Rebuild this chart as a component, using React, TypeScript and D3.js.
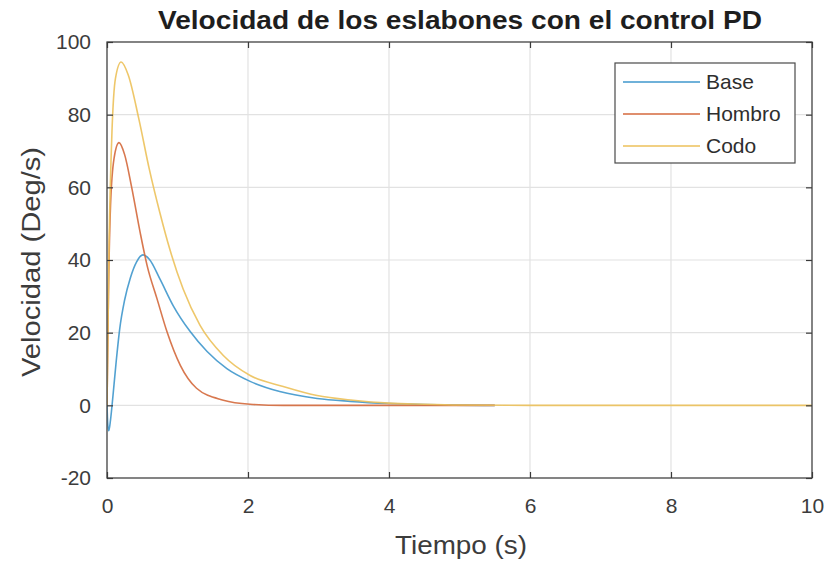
import { useEffect, useRef } from 'react'
import * as d3 from 'd3'

const W = 832
const H = 564
const MARGIN = { top: 42, right: 20, bottom: 86, left: 107 }

const xTicks = [0, 2, 4, 6, 8, 10]
const yTicks = [-20, 0, 20, 40, 60, 80, 100]

// Base
const baseT = [0, 0.01, 0.025, 0.05, 0.085, 0.13, 0.18, 0.25, 0.33, 0.42, 0.51, 0.6, 0.75, 0.94, 1.18, 1.42, 1.7, 2.03, 2.45, 2.98, 3.45, 4, 4.5, 5.5]
const baseV = [0, -5, -7, -4, 2.7, 12, 21, 29, 35, 39.5, 41.4, 40.2, 34.8, 27.4, 20.3, 14.8, 10.1, 6.6, 3.8, 1.9, 1.1, 0.5, 0.2, 0]

// Hombro
const hombroT = [0, 0.02, 0.05, 0.1, 0.17, 0.25, 0.35, 0.47, 0.57, 0.71, 0.85, 1.04, 1.27, 1.65, 2.03, 2.5, 3, 4, 5.5]
const hombroV = [0, 30, 55, 68, 72.3, 69, 60, 47.6, 38.4, 29.3, 20.3, 11, 4.7, 1.4, 0.3, 0, 0, 0, 0]

// Codo
const codoT = [0, 0.03, 0.07, 0.12, 0.2, 0.3, 0.45, 0.6, 0.75, 0.89, 1.08, 1.32, 1.65, 2.03, 2.5, 2.98, 3.49, 4, 4.5, 5, 6, 8, 10]
const codoV = [0, 45, 75, 90, 94.5, 91, 79, 65, 53, 43, 32, 22, 13.7, 8.2, 5.2, 2.7, 1.4, 0.6, 0.3, 0.1, 0, 0, 0]

const series = [
  { name: 'Base', t: baseT, v: baseV, color: '#3f97cc' },
  { name: 'Hombro', t: hombroT, v: hombroV, color: '#d4693c' },
  { name: 'Codo', t: codoT, v: codoV, color: '#ecc15a' },
]

const FONT = 'Liberation Sans, Arial, sans-serif'

export default function App() {
  const svgRef = useRef<SVGSVGElement>(null)

  useEffect(() => {
    const el = svgRef.current
    if (!el) return
    d3.select(el).selectAll('*').remove()

    const iW = W - MARGIN.left - MARGIN.right
    const iH = H - MARGIN.top - MARGIN.bottom

    const svg = d3.select(el)
    svg.append('rect').attr('width', W).attr('height', H).attr('fill', '#fff')

    const root = svg.append('g').attr('transform', `translate(${MARGIN.left},${MARGIN.top})`)

    const x = d3.scaleLinear().domain([0, 10]).range([0, iW])
    const y = d3.scaleLinear().domain([-20, 100]).range([iH, 0])

    // Grid
    root.append('g')
      .selectAll('line')
      .data(xTicks)
      .join('line')
      .attr('x1', (d) => x(d)).attr('x2', (d) => x(d))
      .attr('y1', 0).attr('y2', iH)
      .attr('stroke', '#e2e2e2').attr('stroke-width', 1.2)

    root.append('g')
      .selectAll('line')
      .data(yTicks)
      .join('line')
      .attr('x1', 0).attr('x2', iW)
      .attr('y1', (d) => y(d)).attr('y2', (d) => y(d))
      .attr('stroke', '#e2e2e2').attr('stroke-width', 1.2)

    // Lines
    const clip = root.append('clipPath').attr('id', 'plot-clip')
    clip.append('rect').attr('width', iW).attr('height', iH)

    const lines = root.append('g').attr('clip-path', 'url(#plot-clip)')
    series.forEach((s) => {
      const pts = s.t.map((t, i) => [t, s.v[i]] as [number, number])
      const line = d3.line<[number, number]>()
        .x((d) => x(d[0]))
        .y((d) => y(d[1]))
        .curve(d3.curveMonotoneX)
      lines.append('path')
        .attr('d', line(pts))
        .attr('fill', 'none')
        .attr('stroke', s.color)
        .attr('stroke-width', 1.6)
        .attr('opacity', 0.9)
    })

    // Axes box
    root.append('rect')
      .attr('width', iW).attr('height', iH)
      .attr('fill', 'none').attr('stroke', '#4a4a4a').attr('stroke-width', 1.3)

    const axisColor = '#3a3a3a'
    const fmt = (d: d3.NumberValue) => String(d)
    const xBottom = root.append('g')
      .attr('transform', `translate(0,${iH})`)
      .call(d3.axisBottom(x).tickValues(xTicks).tickSize(-6).tickPadding(20).tickFormat(fmt))
    const xTop = root.append('g')
      .call(d3.axisTop(x).tickValues(xTicks).tickSize(-6).tickFormat(() => ''))
    const yLeft = root.append('g')
      .call(d3.axisLeft(y).tickValues(yTicks).tickSize(-6).tickPadding(16).tickFormat(fmt))
    const yRight = root.append('g')
      .attr('transform', `translate(${iW},0)`)
      .call(d3.axisRight(y).tickValues(yTicks).tickSize(-6).tickFormat(() => ''))

    ;[xBottom, xTop, yLeft, yRight].forEach((g) => {
      g.select('.domain').remove()
      g.selectAll('.tick line').attr('stroke', axisColor).attr('stroke-width', 1.2)
      g.selectAll('text')
        .attr('font-family', FONT)
        .attr('font-size', 21)
        .attr('fill', '#3c3c3c')
    })

    // Title
    svg.append('text')
      .attr('x', 460).attr('y', 29)
      .attr('text-anchor', 'middle')
      .attr('font-family', FONT)
      .attr('font-weight', 'bold')
      .attr('font-size', 25)
      .attr('textLength', 604)
      .attr('lengthAdjust', 'spacingAndGlyphs')
      .attr('fill', '#1e1e1e')
      .text('Velocidad de los eslabones con el control PD')

    // Axis labels
    svg.append('text')
      .attr('x', 461).attr('y', 554)
      .attr('text-anchor', 'middle')
      .attr('font-family', FONT)
      .attr('font-size', 25)
      .attr('textLength', 132)
      .attr('lengthAdjust', 'spacingAndGlyphs')
      .attr('fill', '#3c3c3c')
      .text('Tiempo (s)')

    svg.append('text')
      .attr('transform', `translate(40,${MARGIN.top + iH / 2 + 2}) rotate(-90)`)
      .attr('text-anchor', 'middle')
      .attr('font-family', FONT)
      .attr('font-size', 25)
      .attr('textLength', 230)
      .attr('lengthAdjust', 'spacingAndGlyphs')
      .attr('fill', '#3c3c3c')
      .text('Velocidad (Deg/s)')

    // Legend
    const lg = svg.append('g').attr('transform', 'translate(615,63)')
    lg.append('rect')
      .attr('width', 180).attr('height', 100)
      .attr('fill', '#fff').attr('stroke', '#4a4a4a').attr('stroke-width', 1.2)
    series.forEach((s, i) => {
      const row = lg.append('g').attr('transform', `translate(0,${19 + i * 32})`)
      row.append('line')
        .attr('x1', 8).attr('x2', 85)
        .attr('stroke', s.color).attr('stroke-width', 1.6)
      row.append('text')
        .attr('x', 91).attr('y', 7)
        .attr('font-family', FONT)
        .attr('font-size', 21)
        .attr('fill', '#2e2e2e')
        .text(s.name)
    })
  }, [])

  return (
    <svg
      ref={svgRef}
      width={W}
      height={H}
      style={{ position: 'absolute', left: 0, top: 0 }}
    />
  )
}
